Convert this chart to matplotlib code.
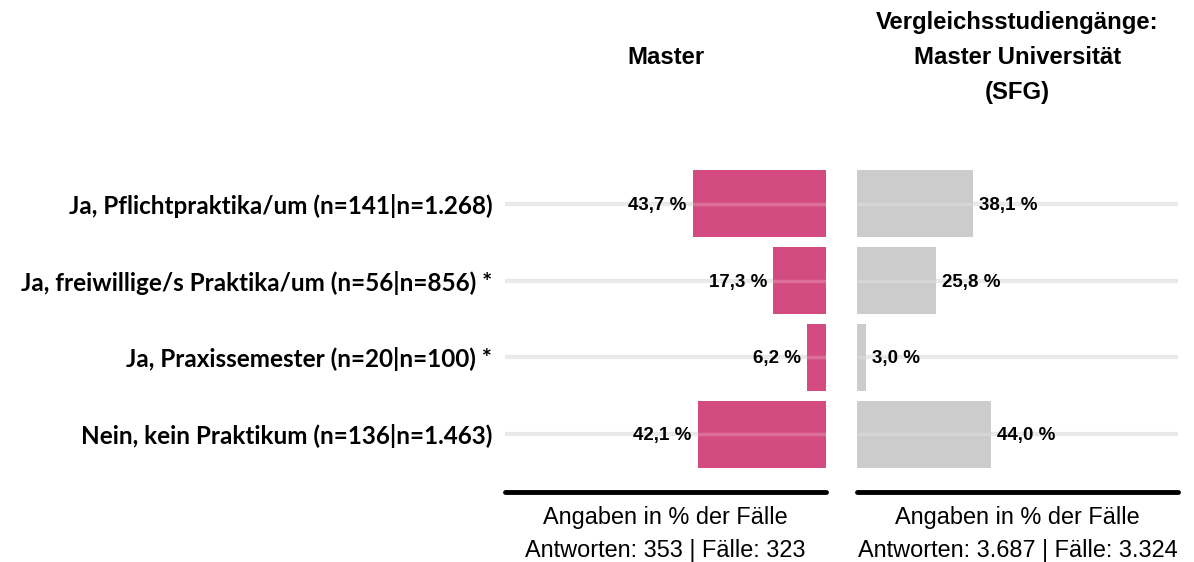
import matplotlib
matplotlib.use("Agg")
import matplotlib.pyplot as plt

# data
categories = [
	"Ja, Pflichtpraktika/um (n=141|n=1.268)",
	"Ja, freiwillige/s Praktika/um (n=56|n=856) *",
	"Ja, Praxissemester (n=20|n=100) *",
	"Nein, kein Praktikum (n=136|n=1.463)",
]
master_vals = [43.7, 17.3, 6.2, 42.1]
sfg_vals = [38.1, 25.8, 3.0, 44.0]
titles = ["Master", "Vergleichsstudiengänge:\nMaster Universität\n(SFG)"]
footers = [
	"Angaben in % der Fälle\nAntworten: 353 | Fälle: 323",
	"Angaben in % der Fälle\nAntworten: 3.687 | Fälle: 3.324",
]

PINK = "#d44b82"
GREY = "#cccccc"
GRID = "#e6e6e6"
W, H = 1194, 562
XMAX = 105.2

fig = plt.figure(figsize=(W / 100, H / 100), dpi=100)

def px_axes(x0, x1, y0, y1):
	# pixel box -> figure coords
	return fig.add_axes([x0 / W, 1 - y1 / H, (x1 - x0) / W, (y1 - y0) / H])

ax_l = px_axes(505, 826, 146, 492)
ax_r = px_axes(857, 1178, 146, 492)

ys = list(range(len(categories)))

for ax, vals, color, flip in [(ax_l, master_vals, PINK, True), (ax_r, sfg_vals, GREY, False)]:
	for y in ys:
		ax.plot([0, XMAX], [y, y], color=GRID, lw=3, zorder=1, solid_capstyle="butt")
		# gridline shows faintly through the bars
		ax.plot([0, XMAX], [y, y], color="white", lw=2.5, alpha=0.2, zorder=2.5,
			solid_capstyle="butt")
	ax.barh(ys, vals, height=0.88, color=color, zorder=2)
	ax.plot([0, XMAX], [3.75, 3.75], color="black", lw=3.5, solid_capstyle="round",
		clip_on=False, zorder=3)
	ax.set_ylim(3.75, -0.75)
	if flip:
		ax.set_xlim(XMAX, 0)
	else:
		ax.set_xlim(0, XMAX)
	for s in ax.spines.values():
		s.set_visible(False)
	ax.set_xticks([])
	for y, v in zip(ys, vals):
		lab = str.format("{:.1f} %", v).replace(".", ",")
		ax.text(v + 2, y + 0.02, lab, ha="right" if flip else "left", va="center",
			fontsize=13.5, fontweight="bold", family="Liberation Sans", zorder=4)

ax_l.set_yticks(ys, categories, fontsize=17.5, fontweight="bold", family="Lato")
ax_l.tick_params(axis="y", length=0, pad=9)
ax_r.set_yticks([])

# titles and footers
for cx, t, f in [(665.5, titles[0], footers[0]), (1017.5, titles[1], footers[1])]:
	fig.text(cx / W, 1 - 57.5 / H, t, ha="center", va="center", fontsize=17.2,
		fontweight="bold", family="Liberation Sans", linespacing=1.66)
	fig.text(cx / W, 1 - 534 / H, f, ha="center", va="center", fontsize=16.9,
		family="Liberation Sans", linespacing=1.58)

fig.savefig("out.png", dpi=100)
